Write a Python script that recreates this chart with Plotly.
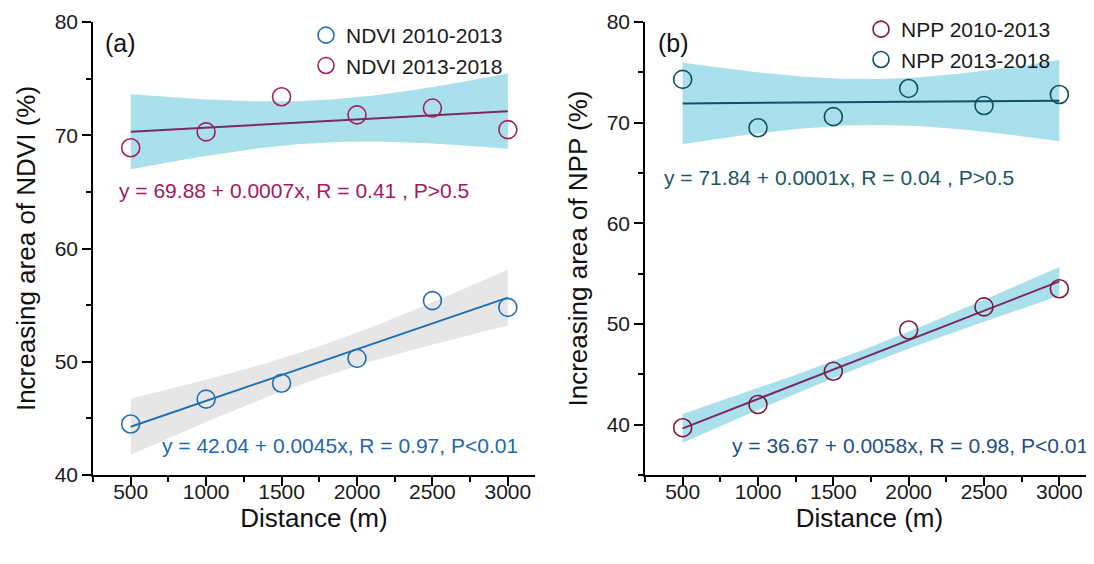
import numpy as np
import plotly.graph_objects as go

# ---------------- data ----------------
distance = [500, 1000, 1500, 2000, 2500, 3000]
ndvi_2010_2013 = [44.5, 46.7, 48.1, 50.3, 55.4, 54.8]
ndvi_2013_2018 = [68.9, 70.3, 73.4, 71.8, 72.4, 70.5]
npp_2010_2013 = [39.7, 42.0, 45.3, 49.4, 51.7, 53.5]
npp_2013_2018 = [74.3, 69.5, 70.6, 73.4, 71.7, 72.8]

x_ticks = [500, 1000, 1500, 2000, 2500, 3000]
y_ticks = [40, 50, 60, 70, 80]

eq_ndvi_1 = "y = 42.04 + 0.0045x, R = 0.97, P<0.01"
eq_ndvi_2 = "y = 69.88 + 0.0007x, R = 0.41 , P>0.5"
eq_npp_1 = "y = 36.67 + 0.0058x, R = 0.98, P<0.01"
eq_npp_2 = "y = 71.84 + 0.0001x, R = 0.04 , P>0.5"

FONT = "Arial, Liberation Sans, sans-serif"
BAND_CYAN = "rgba(140,214,230,0.75)"
BAND_GRAY = "rgba(226,226,226,0.85)"


def fit_and_band(x, y, n_grid=101, tcrit=2.776):
    x = np.asarray(x, float)
    y = np.asarray(y, float)
    b, a = np.polyfit(x, y, 1)
    yhat = a + b * x
    n = len(x)
    s = np.sqrt(np.sum((y - yhat) ** 2) / (n - 2))
    sxx = np.sum((x - x.mean()) ** 2)
    xg = np.linspace(x.min(), x.max(), n_grid)
    yg = a + b * xg
    hw = tcrit * s * np.sqrt(1.0 / n + (xg - x.mean()) ** 2 / sxx)
    return xg, yg, yg - hw, yg + hw


fig = go.Figure()


def add_series(x, y, xa, ya, band_color, line_color, marker_color, name, legend):
    xg, yg, lo, hi = fit_and_band(x, y)
    fig.add_trace(go.Scatter(x=xg, y=lo, mode="lines", line=dict(width=0),
                             hoverinfo="skip", showlegend=False, xaxis=xa, yaxis=ya))
    fig.add_trace(go.Scatter(x=xg, y=hi, mode="lines", line=dict(width=0),
                             fill="tonexty", fillcolor=band_color,
                             hoverinfo="skip", showlegend=False, xaxis=xa, yaxis=ya))
    fig.add_trace(go.Scatter(x=[xg[0], xg[-1]], y=[yg[0], yg[-1]], mode="lines",
                             line=dict(color=line_color, width=2),
                             showlegend=False, xaxis=xa, yaxis=ya))
    fig.add_trace(go.Scatter(x=x, y=y, mode="markers", name=name,
                             marker=dict(symbol="circle-open", size=18,
                                         color=marker_color, line=dict(width=1.6, color=marker_color)),
                             xaxis=xa, yaxis=ya, legend=legend))


# Panel (a)
add_series(distance, ndvi_2010_2013, "x", "y", BAND_GRAY, "#1f6fb2", "#1f6fb2", "NDVI 2010-2013", "legend")
add_series(distance, ndvi_2013_2018, "x", "y", BAND_CYAN, "#7a2a6a", "#a3205c", "NDVI 2013-2018", "legend")
# Panel (b)
add_series(distance, npp_2010_2013, "x2", "y2", BAND_CYAN, "#7a2a6a", "#7c1a3c", "NPP 2010-2013", "legend2")
add_series(distance, npp_2013_2018, "x2", "y2", BAND_CYAN, "#0d5263", "#0d5263", "NPP 2013-2018", "legend2")

# the page body adds an 8 px offset; figure pixel = screen pixel - 8
W, H = 1086, 556
T, B = 14, 89
PH = H - T - B

axis_common = dict(showline=True, linecolor="black", linewidth=1.5, ticks="outside",
                   ticklen=9, tickwidth=1.5, tickcolor="black", showgrid=False, zeroline=False,
                   automargin=False,
                   tickfont=dict(family=FONT, size=21, color="#1a1a1a"),
                   minor=dict(ticks="outside", ticklen=5, tickwidth=1.5, tickcolor="black"))
title_font = dict(size=26, family=FONT, color="#111")

fig.update_layout(
    width=W, height=H,
    margin=dict(l=0, r=0, t=T, b=B, autoexpand=False),
    paper_bgcolor="white", plot_bgcolor="white",
    font=dict(family=FONT, color="#222"),
    xaxis=dict(domain=[85 / W, 527 / W], range=[250, 3180], tickvals=x_ticks,
               title=dict(text="Distance (m)", font=title_font, standoff=6),
               ticklabelstandoff=-12, anchor="y", **axis_common),
    yaxis=dict(domain=[0, 1], range=[40, 80], tickvals=y_ticks,
               title=dict(text="Increasing area of NDVI (%)", font=title_font, standoff=12),
               anchor="x", **axis_common),
    xaxis2=dict(domain=[637 / W, 1.0], range=[250, 3230], tickvals=x_ticks,
                title=dict(text="Distance (m)", font=title_font, standoff=6),
                ticklabelstandoff=-12, anchor="y2", **axis_common),
    yaxis2=dict(domain=[0, 1], range=[35, 80], tickvals=y_ticks,
                title=dict(text="Increasing area of NPP (%)", font=title_font, standoff=12),
                anchor="x2", **axis_common),
    legend=dict(x=298 / W, y=1 + 7 / PH, xanchor="left", yanchor="top", bgcolor="rgba(0,0,0,0)",
                font=dict(family=FONT, size=21, color="#1a1a1a"), tracegroupgap=0, itemwidth=30,
                traceorder="normal"),
    legend2=dict(x=853 / W, y=1 + 13 / PH, xanchor="left", yanchor="top", bgcolor="rgba(0,0,0,0)",
                 font=dict(family=FONT, size=21, color="#1a1a1a"), tracegroupgap=0, itemwidth=30,
                 traceorder="normal"),
)

fig.update_xaxes(minor=dict(dtick=250, tick0=250))
fig.update_yaxes(minor=dict(dtick=5, tick0=35))

ann = [
    dict(text="(a)", x=95, y=35, color="#111", size=25),
    dict(text="(b)", x=648, y=35, color="#111", size=25),
    dict(text=eq_ndvi_2, x=109, y=182, color="#a3195b", size=21),
    dict(text=eq_ndvi_1, x=152, y=437, color="#1f66b0", size=21),
    dict(text=eq_npp_2, x=654, y=169, color="#1b5560", size=21),
    dict(text=eq_npp_1, x=722, y=437, color="#1f4e85", size=21),
]
for a in ann:
    fig.add_annotation(text=a["text"], xref="paper", yref="paper",
                       x=a["x"] / W, y=1 - (a["y"] - T) / PH,
                       xanchor="left", yanchor="middle", showarrow=False,
                       font=dict(family=FONT, size=a["size"], color=a["color"]))

fig.write_html("out.html")
